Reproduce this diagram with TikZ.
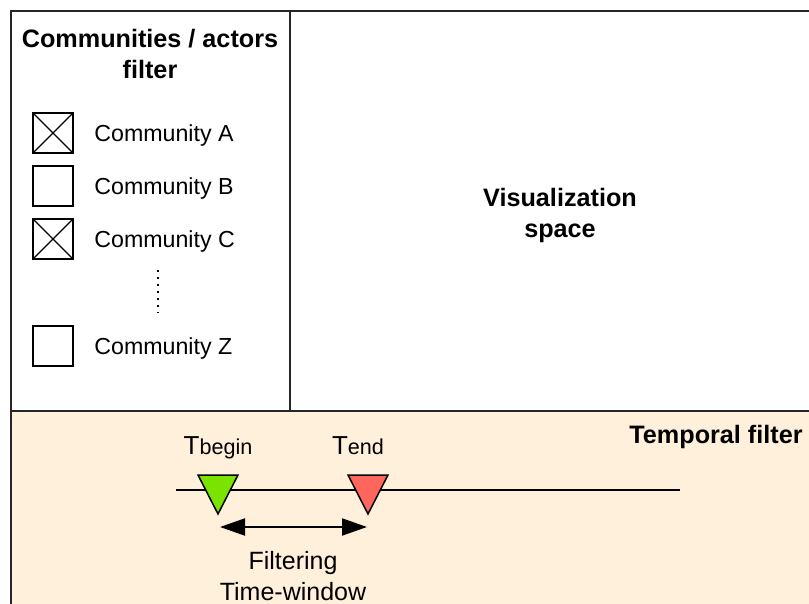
\documentclass[tikz,border=0pt]{standalone}
\usepackage{fontspec}
\setmainfont{Liberation Sans}
\usetikzlibrary{arrows.meta,positioning}
\definecolor{panelbg}{RGB}{255,240,219}
\definecolor{startgreen}{RGB}{122,228,0}
\definecolor{endred}{RGB}{255,102,92}

\begin{document}
\begin{tikzpicture}[>={Triangle[length=12.5pt,width=8.5pt]},x=0.5pt,y=-0.5pt,
  node distance=6.5pt and 10.5pt,
  every node/.style={font=\fontsize{11.6}{14}\selectfont},
  panel/.style={draw=black!85,line width=1pt,anchor=north west,inner sep=0pt,outer sep=0pt},
  tickbox/.style={draw,line width=0.75pt,minimum size=20pt,inner sep=0pt,outer sep=0pt},
  itemlabel/.style={inner sep=0pt,text depth=0pt},
  heading/.style={font=\fontsize{12.6}{15.5}\selectfont\bfseries,align=center,inner sep=0pt},
  flag/.style={draw,line width=0.75pt,line join=miter}]
\useasboundingbox (0,0) rectangle (809,604);
% the three panels
\node[panel,fill=panelbg,minimum width=409.5pt,minimum height=120pt] (timepanel) at (11,411) {};
\node[panel,minimum width=139.5pt,minimum height=200pt] (filterpanel) at (11,11) {};
\node[panel,minimum width=270pt,minimum height=200pt] (vispanel) at (filterpanel.north east) {};
\node[heading,anchor=north] (filtertitle) at (150,29) {Communities / actors\\filter};
\node[heading,anchor=north] (vistitle) at (560,188) {Visualization\\space};
\node[heading,anchor=north east] (timetitle) at (803,425) {Temporal filter};
% community check boxes
\node[tickbox] (boxA) at (53,133) {};
\node[tickbox,below=of boxA] (boxB) {};
\node[tickbox,below=of boxB] (boxC) {};
\node[tickbox,below=33.5pt of boxC] (boxZ) {};
\draw[line width=0.6pt] (boxA.north west)--(boxA.south east) (boxA.north east)--(boxA.south west);
\draw[line width=0.6pt] (boxC.north west)--(boxC.south east) (boxC.north east)--(boxC.south west);
\node[itemlabel,right=of boxA] (labelA) {Community A};
\node[itemlabel,right=of boxB] (labelB) {Community B};
\node[itemlabel,right=of boxC] (labelC) {Community C};
\node[itemlabel,right=of boxZ] (labelZ) {Community Z};
\draw[line width=1pt,dash pattern=on 1pt off 2.5pt] (158,270)--(158,313);
% time line with window markers
\coordinate (tstart) at (176,490);
\coordinate (tstop) at (680,490);
\draw[line width=1pt] (tstart)--(tstop);
\coordinate (tb) at (218,514);
\coordinate (te) at (368,514);
\draw[flag,fill=startgreen] (tb)--++(-20,-39)--++(40,0)--cycle;
\draw[flag,fill=endred] (te)--++(-20,-39)--++(40,0)--cycle;
\node[itemlabel] (lbegin) at (218,446) {\fontsize{13}{14}\selectfont T\fontsize{10.8}{12}\selectfont begin};
\node[itemlabel] (lend) at (358,446) {\fontsize{13}{14}\selectfont T\fontsize{10.8}{12}\selectfont end};
\coordinate (wa) at (220,527);
\coordinate (wb) at (367,527);
\draw[<->,line width=1pt] (wa)--(wb);
\node[align=center,inner sep=0pt,anchor=north,font=\fontsize{12.5}{15.5}\selectfont] (window) at (293,551) {Filtering\\Time-window};
\end{tikzpicture}
\end{document}
